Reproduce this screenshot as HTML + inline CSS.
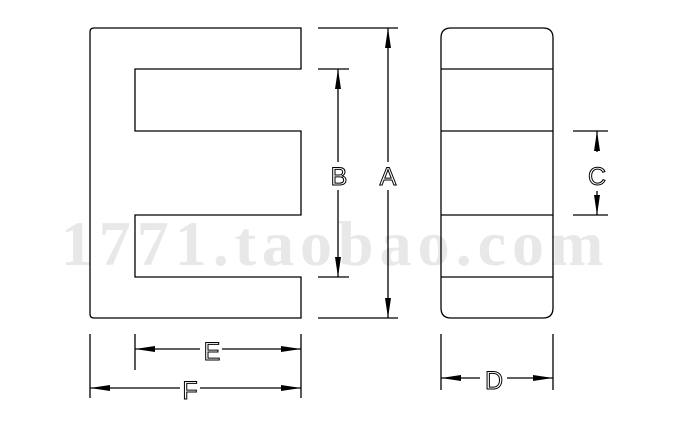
<!DOCTYPE html>
<html><head><style>html,body{margin:0;padding:0;background:#fff}</style></head>
<body>
<svg width="680" height="430" viewBox="0 0 680 430" xmlns="http://www.w3.org/2000/svg" style="display:block">
<rect width="680" height="430" fill="#fff"/>
<text x="335" y="265" text-anchor="middle" font-family="Liberation Serif, serif" font-weight="bold" font-size="64" letter-spacing="6" fill="#e8e8e8">1771.taobao.com</text>
<g fill="none" stroke="#000" stroke-width="1.3">
<path d="M301,28 L94,28 Q90,28 90,32 L90,314 Q90,318 94,318 L301,318 L301,277 L135,277 L135,215 L301,215 L301,131 L135,131 L135,69 L301,69 Z"/>
<path d="M451,28 L543,28 Q553,28 553,38 L553,308 Q553,318 543,318 L451,318 Q441,318 441,308 L441,38 Q441,28 451,28 Z"/>
<path d="M441,69H553M441,131H553M441,215H553M441,277H553"/>
<path d="M318,69H349M318,277H349M318,28H398M318,318H398M573,131H608M573,215H608"/>
<path d="M338,69V162M338,190V277M388,28V162M388,190V318M597,131V152M597,191V215"/>
<path d="M135,334V370M90,334V398M301,334V398M441,334V390M553,334V390"/>
<path d="M135,349H200M222,349H301M90,388H180M200,388H301M441,378H480M507,378H553"/>
</g>
<g fill="#000">
<path d="M338,69l-3,20h6z M338,277l-3,-20h6z M388,28l-3,20h6z M388,318l-3,-20h6z M597,131l-3,20h6z M597,215l-3,-20h6z"/>
<path d="M135,349l20,-3v6z M301,349l-20,-3v6z M90,388l20,-3v6z M301,388l-20,-3v6z M441,378l20,-3v6z M553,378l-20,-3v6z"/>
</g>
<g font-family="Liberation Sans, sans-serif" font-size="25" fill="none" stroke="#000" stroke-width="1" text-anchor="middle">
<text x="339" y="185">B</text>
<text x="388" y="185">A</text>
<text x="597" y="185">C</text>
<text x="212" y="360">E</text>
<text x="190" y="399">F</text>
<text x="494" y="389">D</text>
</g>
</svg>
</body></html>
